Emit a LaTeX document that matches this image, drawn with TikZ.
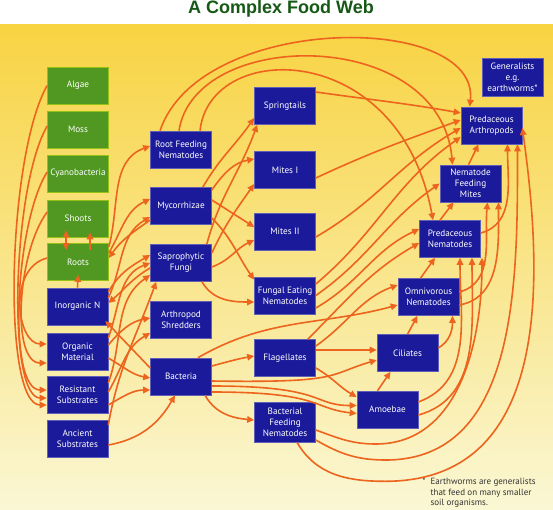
\documentclass[tikz,border=0pt]{standalone}
\usepackage{fontspec}
\setmainfont{PT Sans}
\newfontfamily\titlefont{Liberation Sans}
\usepackage{tikz}
\usetikzlibrary{calc}
\usetikzlibrary{arrows.meta}
\usetikzlibrary{positioning}
\definecolor{web-yellow}{RGB}{248,211,66}
\definecolor{web-mid}{RGB}{249,232,140}
\definecolor{web-pale}{RGB}{250,247,212}
\definecolor{plant-green}{RGB}{80,152,34}
\definecolor{bug-blue}{RGB}{26,26,154}
\definecolor{feed-orange}{RGB}{236,100,30}
\definecolor{title-green}{RGB}{22,88,22}

\tikzset{
  plant/.style={rectangle, fill=plant-green, draw=plant-green!60!yellow, line width=0.6pt,
                minimum width=61pt, minimum height=37pt, inner sep=1pt,
                text=white, align=center, font=\fontsize{9.2}{11}\selectfont},
  bug/.style={plant, fill=bug-blue, draw=bug-blue!70!white},
  feed/.style={->, draw=feed-orange, line width=1.6pt},
}

\begin{document}
\begin{tikzpicture}[x=1pt, y=1pt, >={Triangle[length=7pt,width=6.5pt]}]
% Background
\useasboundingbox (0,0) rectangle (553,-510);
\fill[white] (0,0) rectangle (553,-510);
\shade[top color=web-yellow, middle color=web-mid, bottom color=web-pale] (0,-25) rectangle (553,-510);
\node[font=\titlefont\bfseries\fontsize{18}{18}\selectfont, text=title-green] (title) at (281,-9) {A Complex Food Web};

% ---------------------------------------------------
% Plants and substrates
\node[plant] (algae)  at (78,-85.5)  {Algae};
\node[plant] (moss)   at (78,-129.5) {Moss};
\node[plant] (cyano)  at (78,-173.5) {Cyanobacteria};
\node[plant] (shoots) at (78,-218.5) {Shoots};
\node[plant] (roots)  at (78,-262)   {Roots};
\node[bug] (inorgN)  at (77.5,-306.5) {Inorganic N};
\node[bug] (organic) at (77.5,-351.5) {Organic\\Material};
\node[bug] (resist)  at (77.5,-395)   {Resistant\\Substrates};
\node[bug] (ancient) at (77.5,-439)   {Ancient\\Substrates};

% Second column
\node[bug] (rootnem) at (181,-149.5) {Root Feeding\\Nematodes};
\node[bug] (mycor)   at (181,-206)   {Mycorrhizae};
\node[bug] (sapro)   at (181,-263)   {Saprophytic\\Fungi};
\node[bug] (shred)   at (181,-319.5) {Arthropod\\Shredders};
\node[bug] (bact)    at (181,-376.5) {Bacteria};

% Third column
\node[bug] (spring)  at (285,-106)   {Springtails};
\node[bug] (mitesI)  at (285,-170)   {Mites I};
\node[bug] (mitesII) at (285,-231.5) {Mites II};
\node[bug] (fungnem) at (285,-295.5) {Fungal Eating\\Nematodes};
\node[bug] (flag)    at (285,-358)   {Flagellates};
\node[bug, minimum height=40pt] (bactnem) at (285,-422) {Bacterial\\Feeding\\Nematodes};

% Predators, diagonal
\node[bug, minimum height=38pt] (general) at (512.5,-77) {Generalists\\e.g.\\earthworms*};
\node[bug] (predarth) at (491.5,-125.5) {Predaceous\\Arthropods};
\node[bug] (nemmites) at (470.5,-183.5) {Nematode\\Feeding\\Mites};
\node[bug] (prednem)  at (450,-239)     {Predaceous\\Nematodes};
\node[bug] (omninem)  at (428.5,-297)   {Omnivorous\\Nematodes};
\node[bug] (cil)      at (407.5,-353)   {Ciliates};
\node[bug] (amoeba)   at (387.5,-409.5) {Amoebae};

% Footnote
\node[anchor=north west, align=left, text=black!80, font=\fontsize{9}{10.5}\selectfont] (note) at (427,-475)
  {\llap{*\hspace{5pt}}Earthworms are generalists\\that feed on many smaller\\soil organisms.};

% ---------------------------------------------------
% Plants down to dead material (left loops)
\draw[feed] (algae.west) .. controls +(-40,-70) and +(-45,0) .. ($(resist.west)+(0,-10)$);
\draw[feed] ($(moss.west)+(0,3.5)$) .. controls +(-35,-60) and +(-40,0) .. ($(resist.west)+(0,-3)$);
\draw[feed] ($(cyano.west)+(0,1.5)$) .. controls +(-32,-50) and +(-40,0) .. ($(resist.west)+(0,5)$);
\draw[feed] ($(shoots.west)+(0,6.5)$) .. controls +(-30,-40) and +(-36,0) .. ($(organic.west)+(0,-11.5)$);
\draw[feed] ($(roots.west)+(0,4)$) .. controls +(-40,-10) and +(-30,0) .. ($(organic.west)+(0,7.5)$);
% Shoots - Roots - Inorganic N
\draw[feed, <->] ($(shoots.south)+(-12,7)$) -- ($(roots.north)+(-12,-7)$);
\draw[feed] ($(roots.north)+(12,-7)$) -- ($(shoots.south)+(12,5)$);
\draw[feed] (inorgN.north) -- ($(roots.south)+(0,6)$);

% ---------------------------------------------------
% First to second column
\draw[feed] ($(roots.east)+(0,15)$) to[out=75, in=200] ($(rootnem.west)+(0,3.5)$);
\draw[feed] ($(roots.east)+(0,9)$) to[out=60, in=205] ($(mycor.west)+(0,7)$);
\draw[feed] ($(mycor.west)+(0,-14)$) to[out=215, in=55] ($(roots.east)+(0,4)$);
\draw[feed] ($(inorgN.east)+(0,8.5)$) to[out=65, in=210] ($(mycor.west)+(0,-11)$);
\draw[feed] ($(sapro.west)+(0,-5)$) to[out=210, in=40] ($(inorgN.east)+(0,3.5)$);
\draw[feed] ($(bact.west)+(0,8.5)$) -- ($(inorgN.east)+(-3,-14.5)$);
\draw[feed] ($(inorgN.east)+(0,14.5)$) to[out=60, in=210] ($(sapro.west)+(0,8)$);
\draw[feed] ($(organic.east)+(0,13.5)$) to[out=70, in=200] (sapro.west);
\draw[feed] ($(resist.east)+(0,12)$) to[out=70, in=215] ($(sapro.west)+(0,-12)$);
\draw[feed] ($(ancient.east)+(0,14)$) to[out=80, in=250] ($(sapro.south west)+(6,0)$);
\draw[feed] ($(organic.east)+(0,6.5)$) to[out=50, in=190] ($(shred.west)+(0,1.5)$);
\draw[feed] ($(resist.east)+(0,3)$) to[out=60, in=210] ($(shred.west)+(0,-13.5)$);
\draw[feed] ($(organic.east)+(0,-6.5)$) to[out=-30, in=170] ($(bact.west)+(0,-1.5)$);
\draw[feed] ($(resist.east)+(0,-10)$) to[out=30, in=180] ($(bact.west)+(0,-13.5)$);
\draw[feed] ($(ancient.east)+(0,-6)$) to[out=10, in=240] ($(bact.south)+(-6,0)$);

% Second to third column
\draw[feed] ($(mycor.north east)+(-9,0)$) to[out=60, in=235] ($(spring.west)+(0,-12)$);
\draw[feed] ($(sapro.north east)+(-5,0)$) to[out=75, in=250] ($(spring.south west)+(3,0)$);
\draw[feed] ($(mycor.east)+(0,16)$) to[out=55, in=190] ($(mitesI.west)+(0,11)$);
\draw[feed] ($(sapro.east)+(0,10)$) to[out=65, in=235] ($(mitesI.west)+(0,-14)$);
\draw[feed] ($(mycor.east)+(0,6)$) -- ($(mitesII.west)+(0,4.5)$);
\draw[feed] ($(sapro.east)+(0,-4)$) to[out=20, in=205] ($(mitesII.west)+(0,-8.5)$);
\draw[feed] ($(mycor.east)+(0,-12)$) to[out=-45, in=125] ($(fungnem.north west)+(0,-3)$);
\draw[feed] ($(sapro.south)+(21,0)$) to[out=-60, in=180] ($(fungnem.west)+(0,-6.5)$);
\draw[feed] ($(bact.east)+(0,10.5)$) to[out=15, in=190] ($(flag.west)+(0,2)$);
\draw[feed] ($(bact.south)+(24,0)$) to[out=-60, in=175] ($(bactnem.west)+(0,2)$);

% Root feeding nematodes, arcs over the top
\draw[feed] ($(rootnem.north)+(-21,0)$) .. controls +(40,118) and +(10,95) .. ($(predarth.north west)+(9,0)$);
\draw[feed] ($(rootnem.north)+(-2,0)$) .. controls +(16,104) and +(-12,138) .. ($(nemmites.north)+(-18,0)$);
\draw[feed] ($(rootnem.north)+(19,0)$) .. controls +(10,92) and +(-33,181) .. ($(prednem.north)+(-17,0)$);

% ---------------------------------------------------
% Third column to predators
\draw[feed] ($(spring.east)+(0,14)$) to[out=-8, in=170] ($(predarth.west)+(0,12.5)$);
\draw[feed] ($(mitesI.east)+(0,-8)$) to[out=25, in=200] ($(predarth.west)+(0,5.5)$);
\draw[feed] ($(mitesII.east)+(0,-5.5)$) to[out=30, in=210] ($(predarth.west)+(0,-2.5)$);
\draw[feed] ($(fungnem.east)+(0,11.5)$) to[out=40, in=215] ($(predarth.west)+(0,-11.5)$);
\draw[feed] (fungnem.east) to[out=35, in=215] (nemmites.west);
\draw[feed] ($(fungnem.east)+(0,-12.5)$) to[out=30, in=205] ($(prednem.west)+(0,10)$);
\draw[feed] ($(flag.north east)+(-8,0)$) to[out=45, in=210] ($(prednem.west)+(0,-4)$);
\draw[feed] ($(flag.east)+(0,12)$) to[out=35, in=200] ($(omninem.west)+(0,12)$);
\draw[feed] ($(bact.north)+(17,0)$) to[out=30, in=195] ($(omninem.west)+(0,-8)$);

% Protozoa
\draw[feed] ($(flag.east)+(0,8)$) -- ($(cil.west)+(0,3)$);
\draw[feed] ($(flag.east)+(0,-10)$) to[out=-30, in=150] ($(amoeba.west)+(0,12.5)$);
\draw[feed] ($(bact.east)+(0,-4.5)$) .. controls +(130,-2) and +(-50,-15) .. ($(cil.west)+(0,-7)$);
\draw[feed] ($(bact.east)+(0,-9.5)$) .. controls +(115,0) and +(-45,0) .. ($(amoeba.west)+(0,4)$);
\draw[feed] ($(bact.east)+(0,-15.5)$) .. controls +(110,0) and +(-45,5) .. ($(amoeba.west)+(0,-4)$);
\draw[feed] ($(amoeba.north)+(-10,0)$) -- ($(cil.south)+(-17,0)$);
\draw[feed] (cil.north) -- ($(omninem.south)+(-11,0)$);
\draw[feed] ($(cil.east)+(0,5)$) to[out=30, in=-90] ($(omninem.south)+(24,0)$);

% Up the diagonal
\draw[feed] ($(omninem.north)+(-8,0)$) -- ($(prednem.south)+(-15,0)$);
\draw[feed] ($(prednem.north)+(-10,0)$) -- ($(nemmites.south)+(-17,0)$);
\draw[feed] ($(nemmites.north)+(-2,0)$) -- ($(predarth.south)+(-13,0)$);

% Big loops on the right
\draw[feed] ($(amoeba.east)+(0,7.5)$) to[out=20, in=-90] ($(prednem.south)+(10,0)$);
\draw[feed] ($(amoeba.east)+(0,-5.5)$) to[out=15, in=-90] ($(prednem.south)+(22,0)$);
\draw[feed] ($(omninem.east)+(0,5)$) to[out=15, in=-95] ($(nemmites.south)+(17,0)$);
\draw[feed] ($(omninem.east)+(0,-8)$) to[out=10, in=-90] ($(nemmites.south)+(28,0)$);
\draw[feed] ($(prednem.east)+(0,6)$) to[out=15, in=-90] ($(predarth.south)+(16,0)$);
\draw[feed] ($(bactnem.east)+(0,-8)$) to[out=-20, in=180] ($(bactnem.east)+(60,-22)$)
            to[out=0, in=-90] ($(prednem.south)+(32,0)$);
\draw[feed] ($(bactnem.east)+(0,-18)$) to[out=-30, in=180] ($(bactnem.east)+(70,-38)$)
            to[out=0, in=-90] ($(predarth.south)+(26,0)$);
\draw[feed] ($(bactnem.south)+(12,0)$) to[out=-60, in=180] ($(bactnem.south)+(100,-39)$)
            to[out=0, in=-82, looseness=1.1] ($(predarth.east)+(0,-2.5)$);
\end{tikzpicture}
\end{document}
